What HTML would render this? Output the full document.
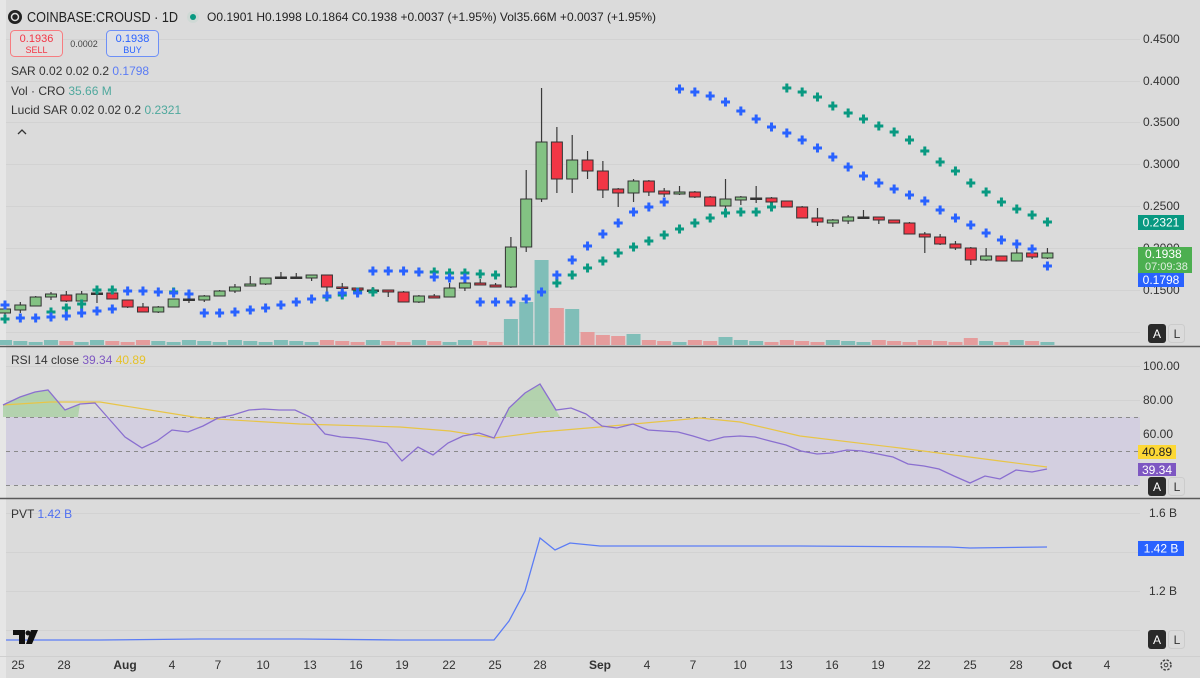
<!DOCTYPE html>
<html><head><meta charset="utf-8"><style>
html,body{margin:0;padding:0;background:#dbdbdb;}
body{width:1200px;height:678px;overflow:hidden;position:relative;font-family:"Liberation Sans",sans-serif;}
svg{position:absolute;left:0;top:0}
.t{font-family:"Liberation Sans",sans-serif}
</style></head><body>
<svg id="s" width="1200" height="678" xmlns="http://www.w3.org/2000/svg">
<rect x="0" y="0" width="1200" height="678" fill="#dbdbdb"/>
<rect x="0" y="0" width="6" height="678" fill="#e6e6e6"/>
<g id="grid" stroke="#d2d2d2" stroke-width="1"></g>
<rect x="6" y="417" width="1134" height="68" fill="#d3cfe0"/>
<g stroke="#8a8a8a" stroke-width="1" stroke-dasharray="4,4">
<line x1="6" y1="417.5" x2="1140" y2="417.5"/><line x1="6" y1="451.5" x2="1140" y2="451.5"/><line x1="6" y1="485.5" x2="1140" y2="485.5"/>
</g>
<g id="vol"></g><g id="cand"></g><g id="sar"></g><g id="rsi"></g><g id="pvt"></g>
<line x1="0" y1="346.5" x2="1200" y2="346.5" stroke="#5a5a5a" stroke-width="1.5"/>
<line x1="0" y1="498.5" x2="1200" y2="498.5" stroke="#5a5a5a" stroke-width="1.5"/>
<line x1="0" y1="656.5" x2="1200" y2="656.5" stroke="#cfcfcf" stroke-width="1"/>
<circle cx="15" cy="17" r="7" fill="#222"/><circle cx="15" cy="17" r="3.5" fill="none" stroke="#ddd" stroke-width="1.5"/>
<text x="27" y="22" class="t" font-size="15" fill="#222" textLength="151" lengthAdjust="spacingAndGlyphs">COINBASE:CROUSD · 1D</text>
<circle cx="193" cy="17" r="6" fill="#cfd9d5"/><circle cx="193" cy="17" r="3" fill="#089981"/>
<text x="207" y="21" class="t" font-size="12" fill="#222">O0.1901  H0.1998  L0.1864  C0.1938  +0.0037 (+1.95%)  Vol35.66M  +0.0037 (+1.95%)</text>
<rect x="10.5" y="30.5" width="52" height="26" rx="4" fill="#e4dede" stroke="#f77c80"/>
<text x="36.5" y="42" text-anchor="middle" class="t" font-size="11" fill="#f23645">0.1936</text>
<text x="36.5" y="53" text-anchor="middle" class="t" font-size="9" fill="#f23645">SELL</text>
<text x="84" y="47" text-anchor="middle" class="t" font-size="9" fill="#444">0.0002</text>
<rect x="106.5" y="30.5" width="52" height="26" rx="4" fill="#dee0e6" stroke="#6d8ff7"/>
<text x="132.5" y="42" text-anchor="middle" class="t" font-size="11" fill="#2962ff">0.1938</text>
<text x="132.5" y="53" text-anchor="middle" class="t" font-size="9" fill="#2962ff">BUY</text>
<text x="11" y="75" class="t" font-size="12" fill="#333">SAR 0.02 0.02 0.2 <tspan fill="#5b7cf5">0.1798</tspan></text>
<text x="11" y="95" class="t" font-size="12" fill="#333">Vol · CRO <tspan fill="#4fa89d">35.66 M</tspan></text>
<text x="11" y="114" class="t" font-size="12" fill="#333">Lucid SAR 0.02 0.02 0.2 <tspan fill="#4fa89d">0.2321</tspan></text>
<path d="M18 134 L22 130 L26 134" fill="none" stroke="#333" stroke-width="1.3"/>
<text x="11" y="364" class="t" font-size="12" fill="#333">RSI 14 close <tspan fill="#7e57c2">39.34</tspan> <tspan fill="#e6c229">40.89</tspan></text>
<text x="11" y="518" class="t" font-size="12" fill="#333">PVT <tspan fill="#4f6ff0">1.42 B</tspan></text>
<g class="t" font-size="12" fill="#333">
<text x="1143" y="43">0.4500</text><text x="1143" y="85">0.4000</text><text x="1143" y="126">0.3500</text>
<text x="1143" y="168">0.3000</text><text x="1143" y="210">0.2500</text><text x="1143" y="252">0.2000</text><text x="1143" y="294">0.1500</text>
<text x="1143" y="370">100.00</text><text x="1143" y="404">80.00</text><text x="1143" y="438">60.00</text>
<text x="1149" y="517">1.6 B</text><text x="1149" y="595">1.2 B</text>
</g>
<rect x="1138" y="215" width="46" height="15" fill="#089981"/><text x="1161" y="226.5" text-anchor="middle" class="t" font-size="12" fill="#fff">0.2321</text>
<rect x="1138" y="247" width="54" height="26" fill="#4caf50"/><text x="1145" y="258" class="t" font-size="12" fill="#fff">0.1938</text><text x="1145" y="270" class="t" font-size="11" fill="#dff0df">07:09:38</text>
<rect x="1138" y="273" width="46" height="14" fill="#2962ff"/><text x="1161" y="284" text-anchor="middle" class="t" font-size="12" fill="#fff">0.1798</text>
<rect x="1138" y="445" width="38" height="14" fill="#fdd835"/><text x="1157" y="456" text-anchor="middle" class="t" font-size="12" fill="#222">40.89</text>
<rect x="1138" y="463" width="38" height="13" fill="#7e57c2"/><text x="1157" y="474" text-anchor="middle" class="t" font-size="12" fill="#fff">39.34</text>
<rect x="1138" y="541" width="46" height="15" fill="#2962ff"/><text x="1161" y="552.5" text-anchor="middle" class="t" font-size="12" fill="#fff">1.42 B</text>
<g id="al"></g>
<g class="t" font-size="12" fill="#333" text-anchor="middle">
<text x="18" y="669">25</text><text x="64" y="669">28</text><text x="125" y="669" font-weight="bold">Aug</text>
<text x="172" y="669">4</text><text x="218" y="669">7</text><text x="263" y="669">10</text><text x="310" y="669">13</text>
<text x="356" y="669">16</text><text x="402" y="669">19</text><text x="449" y="669">22</text><text x="495" y="669">25</text>
<text x="540" y="669">28</text><text x="600" y="669" font-weight="bold">Sep</text><text x="647" y="669">4</text>
<text x="693" y="669">7</text><text x="740" y="669">10</text><text x="786" y="669">13</text><text x="832" y="669">16</text>
<text x="878" y="669">19</text><text x="924" y="669">22</text><text x="970" y="669">25</text><text x="1016" y="669">28</text>
<text x="1062" y="669" font-weight="bold">Oct</text><text x="1107" y="669">4</text>
</g>
<circle cx="1166" cy="665" r="5" fill="none" stroke="#444" stroke-width="1.5" stroke-dasharray="2.5,1.5"/><circle cx="1166" cy="665" r="1.8" fill="none" stroke="#444"/>
<path d="M13 630 H25 V644 H19 V635 H13 Z" fill="#111"/><circle cx="28" cy="633" r="2.5" fill="#111"/><path d="M31 630 H38 L32 644 H26 Z" fill="#111"/>
</svg>
<script>
var NS="http://www.w3.org/2000/svg";
function el(p,t,a){var e=document.createElementNS(NS,t);for(var k in a)e.setAttribute(k,a[k]);document.getElementById(p).appendChild(e);return e;}
[39,81,122,164,206,248,290,332,366,400,434,468,513,552,591,630].forEach(function(y){el('grid','line',{x1:6,y1:y+.5,x2:1140,y2:y+.5});});
function X(i){return 5+i*15.33;}
var C=[[309,313,307,316,'g'],[305,310,302,313,'g'],[297,306,296,306,'g'],[294,297,292,300,'g'],[295,301,291,302,'r'],[294,301,291,303,'g'],[293,294,290,303,'d'],[293,299,290,299,'r'],[300,307,300,308,'r'],[307,312,303,312,'r'],[307,312,306,313,'g'],[299,307,299,307,'g'],[299,300,294,303,'d'],[296,300,295,302,'g'],[291,296,290,296,'g'],[287,291,284,293,'g'],[284,286,276,286,'g'],[278,284,278,285,'g'],[277,278,272,279,'d'],[277,278,273,278,'d'],[275,278,275,281,'g'],[275,287,275,292,'r'],[287,288,283,293,'r'],[288,290,288,291,'r'],[290,291,287,293,'d'],[290,292,290,297,'r'],[292,302,291,302,'r'],[296,302,295,303,'g'],[296,298,294,298,'r'],[288,297,283,297,'g'],[283,288,283,291,'g'],[283,285,279,285,'r'],[285,287,283,287,'r'],
[247,287,237,288,'g'],[199,247,170,252,'g'],[142,199,88,202,'g'],[142,179,127,193,'r'],[160,179,135,193,'g'],[160,171,151,179,'r'],[171,190,161,198,'r'],[189,193,188,207,'r'],[181,193,179,202,'g'],[181,192,180,196,'r'],[191,194,188,197,'r'],[192,194,186,195,'g'],[192,197,191,198,'r'],[197,206,196,206,'r'],[199,206,179,210,'g'],[197,200,196,205,'g'],[198,199,186,203,'d'],[198,202,197,202,'r'],[201,207,201,207,'r'],[207,218,206,218,'r'],[218,222,208,226,'r'],[220,223,219,227,'g'],[217,221,215,224,'g'],[217,218,210,218,'d'],[217,220,217,224,'r'],[220,223,220,223,'r'],[223,234,222,234,'r'],[234,237,232,253,'r'],[237,244,234,245,'r'],[244,248,241,250,'r'],[248,260,247,265,'r'],[256,260,248,261,'g'],[256,261,256,261,'r'],[253,261,248,261,'g'],[253,257,247,259,'r'],[253,258,248,259,'g']];
var V={33:319,34:302,35:260,36:308,37:309,38:332,39:335,40:336,41:334,47:337,63:338};
C.forEach(function(c,i){var x=X(i);
 var vt=V[i]||(340+(i%3));var vc=c[4]=='r'?'#e59c9c':'#80beb8';
 el('vol','rect',{x:x-7,y:vt,width:14,height:345-vt,fill:vc});
 el('cand','line',{x1:x,y1:c[2],x2:x,y2:c[3],stroke:'#3a3a3a','stroke-width':1.2});
 var f=c[4]=='r'?'#f23645':(c[4]=='g'?'#83c283':'#333');
 var h=Math.max(c[1]-c[0],1.5);
 el('cand','rect',{x:x-5.5,y:c[0],width:11,height:h,fill:f,stroke:'#333','stroke-width':1});
});
var B=[305,318,318,317,316,313,311,309,291,291,292,293,294,313,313,312,310,308,305,302,299,296,293,293,271,271,271,272,277,278,278,302,302,302,299,292,275,260,246,234,223,212,207,202,89,92,96,102,111,119,127,133,140,148,157,167,176,183,189,195,201,210,218,225,233,240,244,249,266];
var G={0:319,3:312,4:308,5:304,6:290,7:290,11:292,12:294,21:297,22:295,23:292,24:292,27:272,28:272,29:273,30:273,31:274,32:275,36:283,37:275,38:268,39:261,40:253,41:247,42:241,43:235,44:229,45:223,46:218,47:213,48:212,49:212,50:207,51:88,52:92,53:97,54:106,55:113,56:119,57:126,58:132,59:140,60:151,61:162,62:171,63:183,64:192,65:202,66:209,67:215,68:222};
function plus(x,y,c){el('sar','rect',{x:x-4.5,y:y-1.5,width:9,height:3,fill:c});el('sar','rect',{x:x-1.5,y:y-4.5,width:3,height:9,fill:c});}
for(var k in G)plus(X(+k),G[k],'#089981');
B.forEach(function(y,i){plus(X(i),y,'#2962ff');});
var R=[[3,405],[20,397],[35,392],[48,390],[65,410],[80,404],[95,403],[110,420],[125,437],[142,448],[157,441],[172,430],[188,432],[203,426],[218,418],[233,415],[249,410],[264,409],[279,410],[295,410],[310,417],[325,434],[341,437],[356,438],[371,440],[387,443],[402,461],[418,447],[433,455],[448,443],[463,436],[479,433],[494,438],[509,408],[525,393],[540,384],[556,410],[571,408],[586,414],[602,426],[617,428],[633,424],[648,430],[663,431],[678,432],[693,436],[709,441],[724,437],[740,436],[755,437],[770,441],[786,445],[801,451],[817,454],[832,453],[847,450],[862,451],[878,454],[893,457],[908,464],[924,466],[939,469],[954,476],[970,483],[985,476],[1000,479],[1016,470],[1032,472],[1047,469]];
var Y=[[3,405],[50,402],[100,402],[150,410],[200,418],[300,424],[400,427],[450,431],[494,438],[540,432],[600,427],[700,418],[740,422],[800,436],[900,448],[1000,461],[1047,467]];
function pts(a){return a.map(function(p){return p[0]+','+p[1]}).join(' ');}
el('rsi','polygon',{points:'3,417 '+pts(R.slice(0,6))+' 78,417',fill:'#a9cfa3',opacity:.8});
el('rsi','polygon',{points:'503,417 '+pts(R.slice(33,37))+' 560,417',fill:'#a9cfa3',opacity:.8});
el('rsi','polyline',{points:pts(Y),fill:'none',stroke:'#e8c547','stroke-width':1.2});
el('rsi','polyline',{points:pts(R),fill:'none',stroke:'#8a6fd0','stroke-width':1.3});
el('pvt','polyline',{points:'6,640 100,640 200,639 300,639 400,640 494,640 509,621 525,591 540,538 555,550 570,543 600,546 800,546 950,547 970,548 1047,547',fill:'none',stroke:'#5b7cf5','stroke-width':1.3});
[324,477,630].forEach(function(y){
 el('al','rect',{x:1148,y:y,width:18,height:19,rx:3,fill:'#2a2a2a'});
 var t=el('al','text',{x:1157,y:y+14,'text-anchor':'middle','font-size':12,fill:'#fff','font-family':'Liberation Sans'});t.textContent='A';
 el('al','rect',{x:1168.5,y:y+.5,width:16,height:18,rx:3,fill:'none',stroke:'#ccc'});
 var u=el('al','text',{x:1177,y:y+14,'text-anchor':'middle','font-size':12,fill:'#333','font-family':'Liberation Sans'});u.textContent='L';
});
</script>
</body></html>
